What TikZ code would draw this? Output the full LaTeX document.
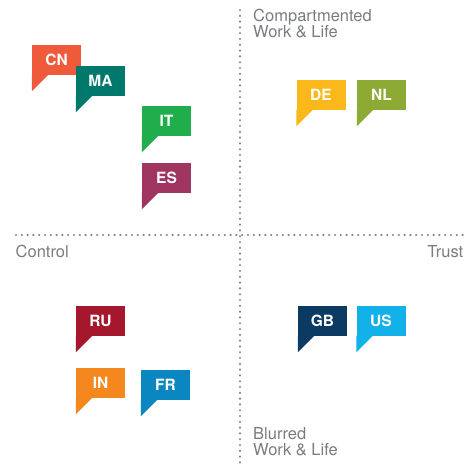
\documentclass[tikz,border=0pt]{standalone}
\usepackage{fontspec}
\setmainfont{TeX Gyre Heros}
\usepackage{tikz}

\definecolor{cncol}{HTML}{EF5A3B}
\definecolor{macol}{HTML}{00786C}
\definecolor{itcol}{HTML}{1FAE4B}
\definecolor{escol}{HTML}{A03562}
\definecolor{decol}{HTML}{FBB81A}
\definecolor{nlcol}{HTML}{8DAA34}
\definecolor{rucol}{HTML}{A5172D}
\definecolor{incol}{HTML}{F5871F}
\definecolor{frcol}{HTML}{0A87C0}
\definecolor{gbcol}{HTML}{0B3B63}
\definecolor{uscol}{HTML}{13B1EA}
\definecolor{axisgray}{HTML}{7A7C80}
\definecolor{dotgray}{HTML}{858585}

\tikzset{
  flag/.style={fill=#1,text=white,inner sep=0pt,minimum width=49pt,minimum height=30pt,
    font=\fontsize{15.5}{15.5}\selectfont\bfseries},
  axislabel/.style={text=axisgray,inner sep=0pt,font=\fontsize{16.5}{16}\selectfont},
  dotline/.style={dotgray,line width=2.4pt,line cap=round,dash pattern=on 0pt off 5.8pt}
}

\begin{document}
\begin{tikzpicture}[x=1pt,y=-1pt]
    \useasboundingbox (0,0) rectangle (466,464);

    % Quadrant axes.
    \coordinate (west) at (16,235);
    \coordinate (east) at (466,235);
    \coordinate (north) at (240,10);
    \coordinate (south) at (240,464);
    \draw[dotline] (west) -- (east);
    \draw[dotline] (north) -- (south);

    % Axis captions.
    \node[axislabel,align=left,anchor=north west] (top) at (253,9) {Compartmented\\Work \& Life};
    \node[axislabel,align=left,anchor=north west] (bottom) at (253,427) {Blurred\\Work \& Life};
    \node[axislabel,anchor=base west] (ctrl) at (15.5,257) {Control};
    \node[axislabel,anchor=base east] (trust) at (463.5,257) {Trust};

    % Country flags.
    \node[flag=cncol] (cn) at (56.5,60) {CN};
    \node[flag=macol] (ma) at (100.5,81) {MA};
    \node[flag=itcol] (it) at (166.5,121) {IT};
    \node[flag=escol] (es) at (166.5,178) {ES};
    \node[flag=decol] (de) at (321,95) {DE};
    \node[flag=nlcol] (nl) at (381.5,95) {NL};
    \node[flag=rucol] (ru) at (100.5,321) {RU};
    \node[flag=incol] (in) at (100.5,383) {IN};
    \node[flag=frcol] (fr) at (165.5,385) {FR};
    \node[flag=gbcol] (gb) at (322.5,321) {GB};
    \node[flag=uscol] (us) at (381,321) {US};

    % Speech tails.
    \foreach \n in {cn,ma,it,es,de,nl,ru,in,fr,gb,us}
      \fill[\n col] ([yshift=0.5pt]\n.south west) -- ++(0,16.5) -- ++(16.5,-16.5) -- cycle;
\end{tikzpicture}
\end{document}
